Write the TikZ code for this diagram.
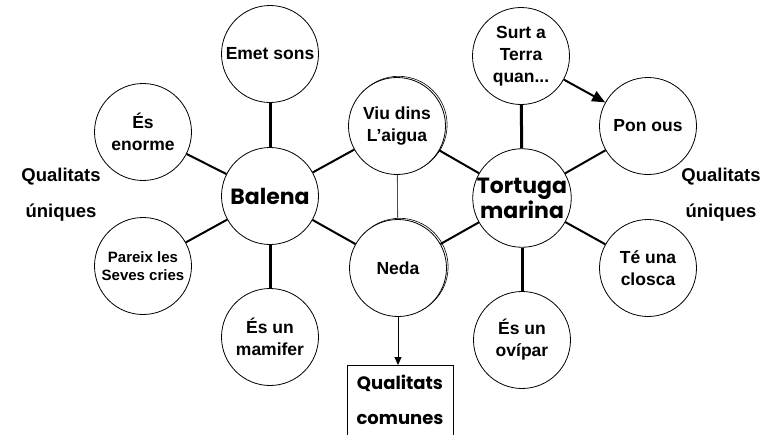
\documentclass[tikz,border=0pt]{standalone}
\usepackage{fontspec}
\setmainfont{Liberation Sans}
\newfontfamily\comic{Poppins}
\usetikzlibrary{arrows.meta}
\tikzstyle{cercle}=[circle,draw,fill=white,line width=0.8pt,minimum size=97pt,inner sep=0pt,align=center,font=\fontsize{17.5}{22}\selectfont\bfseries]
\tikzstyle{cerclep}=[cercle,font=\fontsize{15}{18}\selectfont\bfseries]
\tikzstyle{cercleg}=[cercle,font=\comic\fontsize{22}{25}\selectfont\bfseries]
\tikzstyle{doble}=[preaction={draw,line width=0.6pt,transform canvas={shift={(1.6pt,1.2pt)}}}]
\tikzstyle{etiq}=[font=\fontsize{18.5}{21}\selectfont\bfseries]
\tikzstyle{gruix}=[line width=3pt]
\tikzstyle{prim}=[line width=2pt]

\begin{document}
\begin{tikzpicture}[x=1pt,y=-1pt]
    \useasboundingbox (0,0) rectangle (776,434);
    % balena
    \node[cercleg] (balena) at (270,196) {Balena};
    \node[cercle] (emet) at (270,54) {Emet sons};
    \node[cercle] (enorme) at (143,132) {És\\enorme};
    \node[cerclep] (pareix) at (143,266) {Pareix les\\Seves cries};
    \node[cercle] (mamifer) at (270,337) {És un\\mamifer};
    % comuns
    \node[cercle,doble] (viu) at (397,126) {Viu dins\\L’aigua};
    \node[cercle,doble] (neda) at (398,268) {Neda};
    % tortuga
    \node[cercleg] (tortuga) at (522,198) {Tortuga\\marina};
    \node[cercle] (surt) at (521,56) {Surt a\\Terra\\quan...};
    \node[cercle] (pon) at (648,126) {Pon ous};
    \node[cercle] (closca) at (648,268) {Té una\\closca};
    \node[cercle] (ovipar) at (522,340) {És un\\ovípar};
    \node[draw,line width=0.8pt,anchor=north,minimum width=106pt,inner ysep=10pt,text depth=16pt,align=center,font=\comic\fontsize{18}{35}\selectfont\bfseries] (comunes) at (400,365) {Qualitats\\comunes};
    \node[etiq] (qu1) at (61,177) {Qualitats};
    \node[etiq] (un1) at (61,213) {úniques};
    \node[etiq] (qu2) at (721,177) {Qualitats};
    \node[etiq] (un2) at (721,213) {úniques};

    \draw[gruix] (balena) -- (emet);
    \draw[gruix] (balena) -- (mamifer);
    \draw[prim] (balena) -- (enorme);
    \draw[prim] (balena) -- (pareix);
    \draw[prim] (balena) -- (viu);
    \draw[prim] (balena) -- (neda);
    \draw[gruix] (tortuga) -- (surt);
    \draw[gruix] (tortuga) -- (ovipar);
    \draw[prim] (tortuga) -- (pon);
    \draw[prim] (tortuga) -- (closca);
    \draw[prim] (tortuga) -- (viu);
    \draw[prim] (tortuga) -- (neda);
    \draw[line width=0.8pt,gray!60!black] (viu) -- (neda);
    \draw[prim,-{Triangle[length=13pt,width=11pt]}] (surt) -- (pon);
    \draw[line width=0.8pt,-{Triangle[length=8pt,width=7pt]}] (neda) -- (neda |- comunes.north);
\end{tikzpicture}
\end{document}
